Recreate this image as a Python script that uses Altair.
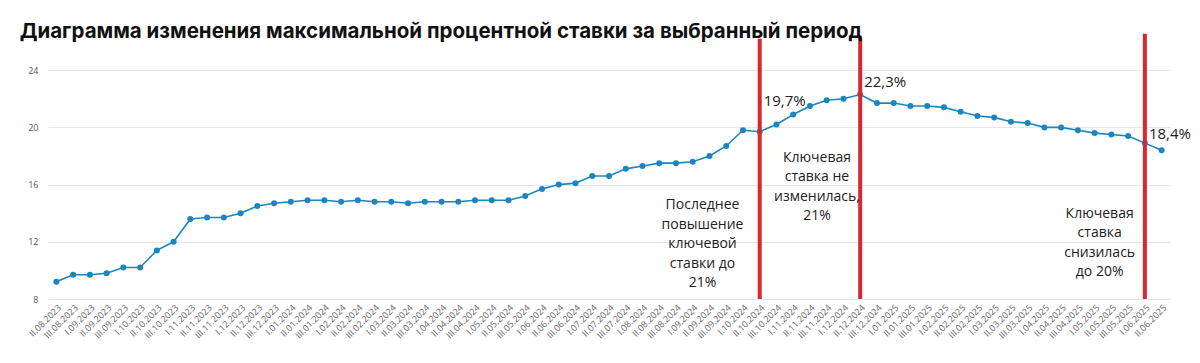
import altair as alt
import pandas as pd

labels = [
    "II.08.2023", "III.08.2023", "I.09.2023", "II.09.2023", "III.09.2023",
    "I.10.2023", "II.10.2023", "III.10.2023", "I.11.2023", "II.11.2023", "III.11.2023",
    "I.12.2023", "II.12.2023", "III.12.2023",
    "I.01.2024", "II.01.2024", "III.01.2024", "I.02.2024", "II.02.2024", "III.02.2024",
    "I.03.2024", "II.03.2024", "III.03.2024", "I.04.2024", "II.04.2024", "III.04.2024",
    "I.05.2024", "II.05.2024", "III.05.2024", "I.06.2024", "II.06.2024", "III.06.2024",
    "I.07.2024", "II.07.2024", "III.07.2024", "I.08.2024", "II.08.2024", "III.08.2024",
    "I.09.2024", "II.09.2024", "III.09.2024", "I.10.2024", "II.10.2024", "III.10.2024",
    "I.11.2024", "II.11.2024", "III.11.2024", "I.12.2024", "II.12.2024", "III.12.2024",
    "I.01.2025", "II.01.2025", "III.01.2025", "I.02.2025", "II.02.2025", "III.02.2025",
    "I.03.2025", "II.03.2025", "III.03.2025", "I.04.2025", "II.04.2025", "III.04.2025",
    "I.05.2025", "II.05.2025", "III.05.2025", "I.06.2025", "II.06.2025",
]

values = [
    9.2, 9.7, 9.7, 9.8, 10.2, 10.2, 11.4, 12.0, 13.6, 13.7, 13.7, 14.0, 14.5, 14.7,
    14.8, 14.9, 14.9, 14.8, 14.9, 14.8, 14.8, 14.7, 14.8, 14.8, 14.8, 14.9, 14.9, 14.9,
    15.2, 15.7, 16.0, 16.1, 16.6, 16.6, 17.1, 17.3, 17.5, 17.5, 17.6, 18.0, 18.7, 19.8,
    19.7, 20.2, 20.9, 21.5, 21.9, 22.0, 22.3, 21.7, 21.7, 21.5, 21.5, 21.4, 21.1, 20.8,
    20.7, 20.4, 20.3, 20.0, 20.0, 19.8, 19.6, 19.5, 19.4, 18.9, 18.4,
]

# key-rate event markers (red vertical lines)
rule_periods = ["II.10.2024", "II.12.2024", "I.06.2025"]
rule_bottoms = [8.0, 8.0, 8.0]
rule_tops = [26.2, 26.3, 26.55]

# value callouts
callout_periods = ["II.10.2024", "II.12.2024", "I.06.2025"]
callout_levels = [21.88, 23.14, 19.57]
callout_texts = ["19,7%", "22,3%", "18,4%"]

# explanatory notes (level = first line)
note_periods = ["II.09.2024", "II.11.2024", "I.05.2025"]
note_levels = [14.54, 17.89, 13.97]
note_texts = [
    "Последнее\nповышение\nключевой\nставки до\n21%",
    "Ключевая\nставка не\nизменилась,\n21%",
    "Ключевая\nставка\nснизилась\nдо 20%",
]
note_dx = [-7, 7, 5]

TITLE = "Диаграмма изменения максимальной процентной ставки за выбранный период"

df = pd.DataFrame({"period": labels, "rate": values})
rules_df = pd.DataFrame({"period": rule_periods, "lo": rule_bottoms, "hi": rule_tops})
callouts_df = pd.DataFrame({"period": callout_periods, "level": callout_levels, "txt": callout_texts})

x_scale = alt.Scale(type="point", padding=0.5)
y_scale = alt.Scale(domain=[8, 26.6], nice=False, zero=False)

x_enc = alt.X(
    "period:N", sort=labels, scale=x_scale,
    axis=alt.Axis(title=None, labelAngle=-45, labelFontSize=9, labelColor="#666666",
                  labelFont="Open Sans", ticks=False, domain=False, grid=False,
                  labelPadding=4, labelOverlap=False),
)
y_enc = alt.Y(
    "rate:Q", scale=y_scale,
    axis=alt.Axis(title=None, values=[8, 12, 16, 20, 24], grid=True, gridColor="#e6e6e6",
                  ticks=False, domain=False, labelFontSize=9, labelColor="#555555",
                  labelFont="Open Sans", labelPadding=10),
)

line = alt.Chart(df).mark_line(color="#1a86c1", strokeWidth=1.6).encode(x=x_enc, y=y_enc)
pts = alt.Chart(df).mark_circle(color="#1a86c1", size=36, opacity=1).encode(
    x=alt.X("period:N", sort=labels, scale=x_scale),
    y=alt.Y("rate:Q", scale=y_scale),
)

rules = alt.Chart(rules_df).mark_rule(color="#d7282f", strokeWidth=4).encode(
    x=alt.X("period:N", sort=labels, scale=x_scale),
    y=alt.Y("lo:Q", scale=y_scale),
    y2="hi:Q",
)

callouts = alt.Chart(callouts_df).mark_text(
    align="left", baseline="middle", dx=4, fontSize=15, font="Open Sans", color="#222222"
).encode(
    x=alt.X("period:N", sort=labels, scale=x_scale),
    y=alt.Y("level:Q", scale=y_scale),
    text="txt:N",
)

layers = [line, pts, rules, callouts]
for p, lv, t, d in zip(note_periods, note_levels, note_texts, note_dx):
    ndf = pd.DataFrame({"period": [p], "level": [lv], "txt": [t]})
    layers.append(
        alt.Chart(ndf).mark_text(
            align="center", baseline="middle", dx=d, fontSize=14, font="Open Sans",
            color="#222222", lineBreak="\n", lineHeight=19.5,
        ).encode(
            x=alt.X("period:N", sort=labels, scale=x_scale),
            y=alt.Y("level:Q", scale=y_scale),
            text="txt:N",
        )
    )

chart = alt.layer(*layers).properties(
    width=1122,
    height=266,
    padding={"left": 40, "top": 25, "right": 22, "bottom": 48},
    autosize=alt.AutoSizeParams(type="none"),
    title=alt.TitleParams(
        TITLE, anchor="start", fontSize=20.5, fontWeight="bold", font="Inter",
        color="#111111", dx=-8, offset=-27, baseline="alphabetic",
    ),
).configure_view(stroke=None)

chart.save("out.html", embed_options={"renderer": "svg", "actions": False})
